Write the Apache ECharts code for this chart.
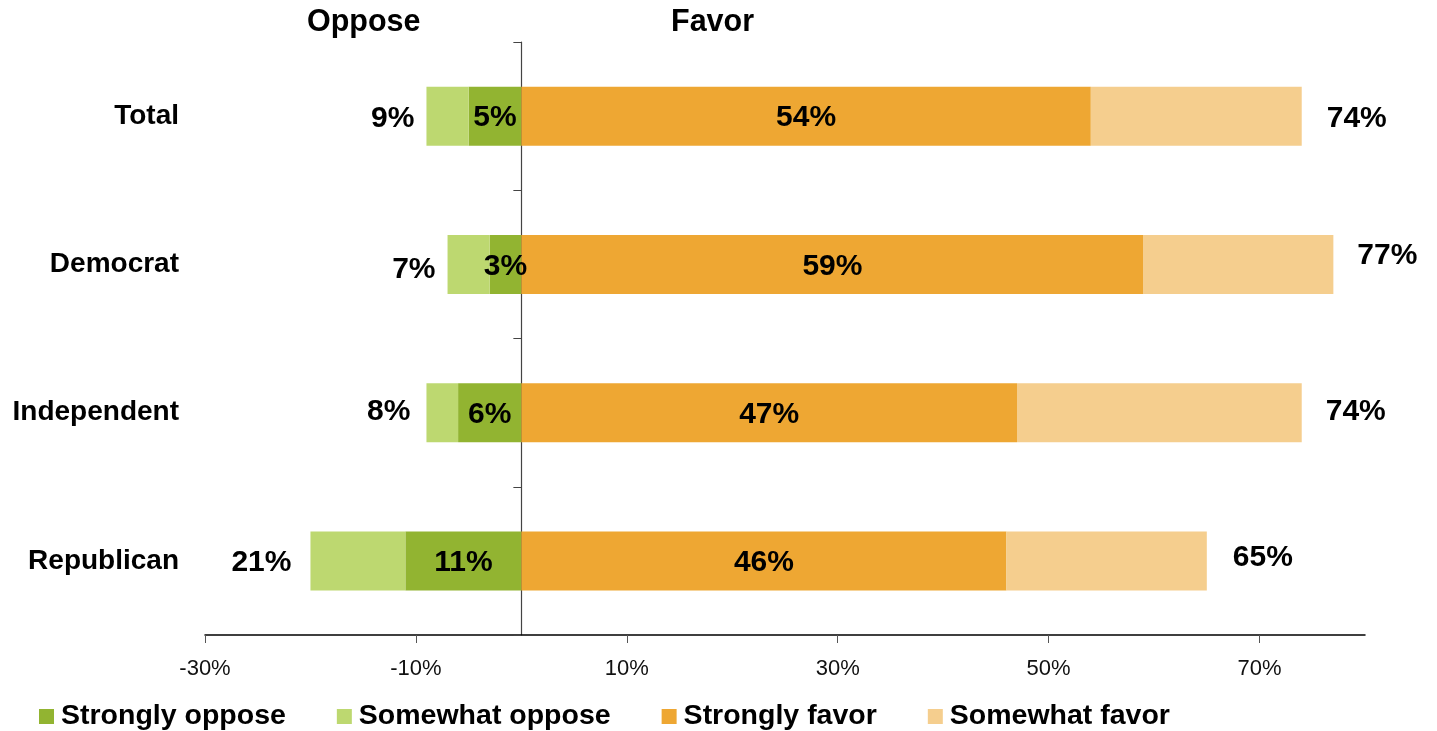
<!DOCTYPE html>
<html><head><meta charset="utf-8">
<script src="https://cdn.jsdelivr.net/npm/echarts@6/dist/echarts.min.js"></script>
<style>html,body{margin:0;padding:0;background:#fff}#c{width:1437px;height:731px}</style>
</head><body><div id="c"></div>
<script>
// ---- data ----
const categories = ['Total', 'Democrat', 'Independent', 'Republican'];
const stronglyOppose = [5, 3, 6, 11];
const somewhatOppose = [4, 4, 3, 9];
const stronglyFavor = [54, 59, 47, 46];
const somewhatFavor = [20, 18, 27, 19];
const netOppose = [9, 7, 8, 21];
const netFavor = [74, 77, 74, 65];
const xTickValues = [-30, -10, 10, 30, 50, 70];
const seriesNames = ['Strongly oppose', 'Somewhat oppose', 'Strongly favor', 'Somewhat favor'];

// ---- style ----
const FONT = '"Liberation Sans", Arial, sans-serif';
const colors = ['#92B431', '#BDD870', '#EEA733', '#F5CE8E'];
const opposeLabelOffset = [[0, 3], [0, 5], [-4, -1], [-7, 2]];
const favorLabelOffset = [[1, 3], [0, -9], [0, -1], [2, -3]];
const labelFont = { fontFamily: FONT, fontSize: 30, fontWeight: 'bold', color: '#000' };

const chart = echarts.init(document.getElementById('c'), null, { renderer: 'canvas' });
chart.setOption({
  backgroundColor: '#fff',
  animation: false,
  color: colors,
  title: [
    { text: 'Oppose', left: 307, top: 7, padding: 0, textStyle: { fontFamily: FONT, fontSize: 30.5, fontWeight: 'bold', color: '#000' } },
    { text: 'Favor', left: 671, top: 7, padding: 0, textStyle: { fontFamily: FONT, fontSize: 30.5, fontWeight: 'bold', color: '#000' } }
  ],
  legend: {
    data: seriesNames,
    left: 39, top: 702, padding: 0,
    icon: 'rect', itemWidth: 15, itemHeight: 15, itemGap: 51,
    textStyle: { fontFamily: FONT, fontSize: 28.5, fontWeight: 'bold', color: '#000', padding: [0, 0, 0, 2] }
  },
  grid: { left: 205, right: 72, top: 42, bottom: 96, containLabel: false, outerBoundsMode: 'none' },
  xAxis: {
    type: 'value', min: -30, max: 80, interval: 20,
    splitLine: { show: false },
    axisLine: { show: true, lineStyle: { color: '#000', width: 1.5 } },
    axisTick: { show: true, length: 8, customValues: xTickValues, lineStyle: { color: '#555' } },
    axisLabel: { customValues: xTickValues, margin: 23, formatter: v => v + '%', fontFamily: FONT, fontSize: 22, color: '#111' }
  },
  yAxis: {
    type: 'category', data: categories, inverse: true,
    axisLine: { show: true, onZero: true, lineStyle: { color: '#444', width: 1.2 } },
    axisTick: { show: true, length: 8, lineStyle: { color: '#444' } },
    axisLabel: { margin: 26, padding: [4, 0, 0, 0], fontFamily: FONT, fontSize: 28, fontWeight: 'bold', color: '#000' }
  },
  series: [
    {
      name: seriesNames[0], type: 'bar', stack: 'all', barWidth: 59,
      data: stronglyOppose.map(v => -v),
      label: { show: true, position: 'inside', offset: [0, 2], formatter: p => stronglyOppose[p.dataIndex] + '%', ...labelFont }
    },
    {
      name: seriesNames[1], type: 'bar', stack: 'all', barWidth: 59,
      data: somewhatOppose.map((v, i) => ({ value: -v, label: { offset: opposeLabelOffset[i] } })),
      label: { show: true, position: 'left', distance: 12, formatter: p => netOppose[p.dataIndex] + '%', ...labelFont }
    },
    {
      name: seriesNames[2], type: 'bar', stack: 'all', barWidth: 59,
      data: stronglyFavor,
      label: { show: true, position: 'inside', offset: [0, 2], formatter: p => stronglyFavor[p.dataIndex] + '%', ...labelFont }
    },
    {
      name: seriesNames[3], type: 'bar', stack: 'all', barWidth: 59,
      data: somewhatFavor.map((v, i) => ({ value: v, label: { offset: favorLabelOffset[i] } })),
      label: { show: true, position: 'right', distance: 24, formatter: p => netFavor[p.dataIndex] + '%', ...labelFont }
    }
  ]
});
</script>
</body></html>
